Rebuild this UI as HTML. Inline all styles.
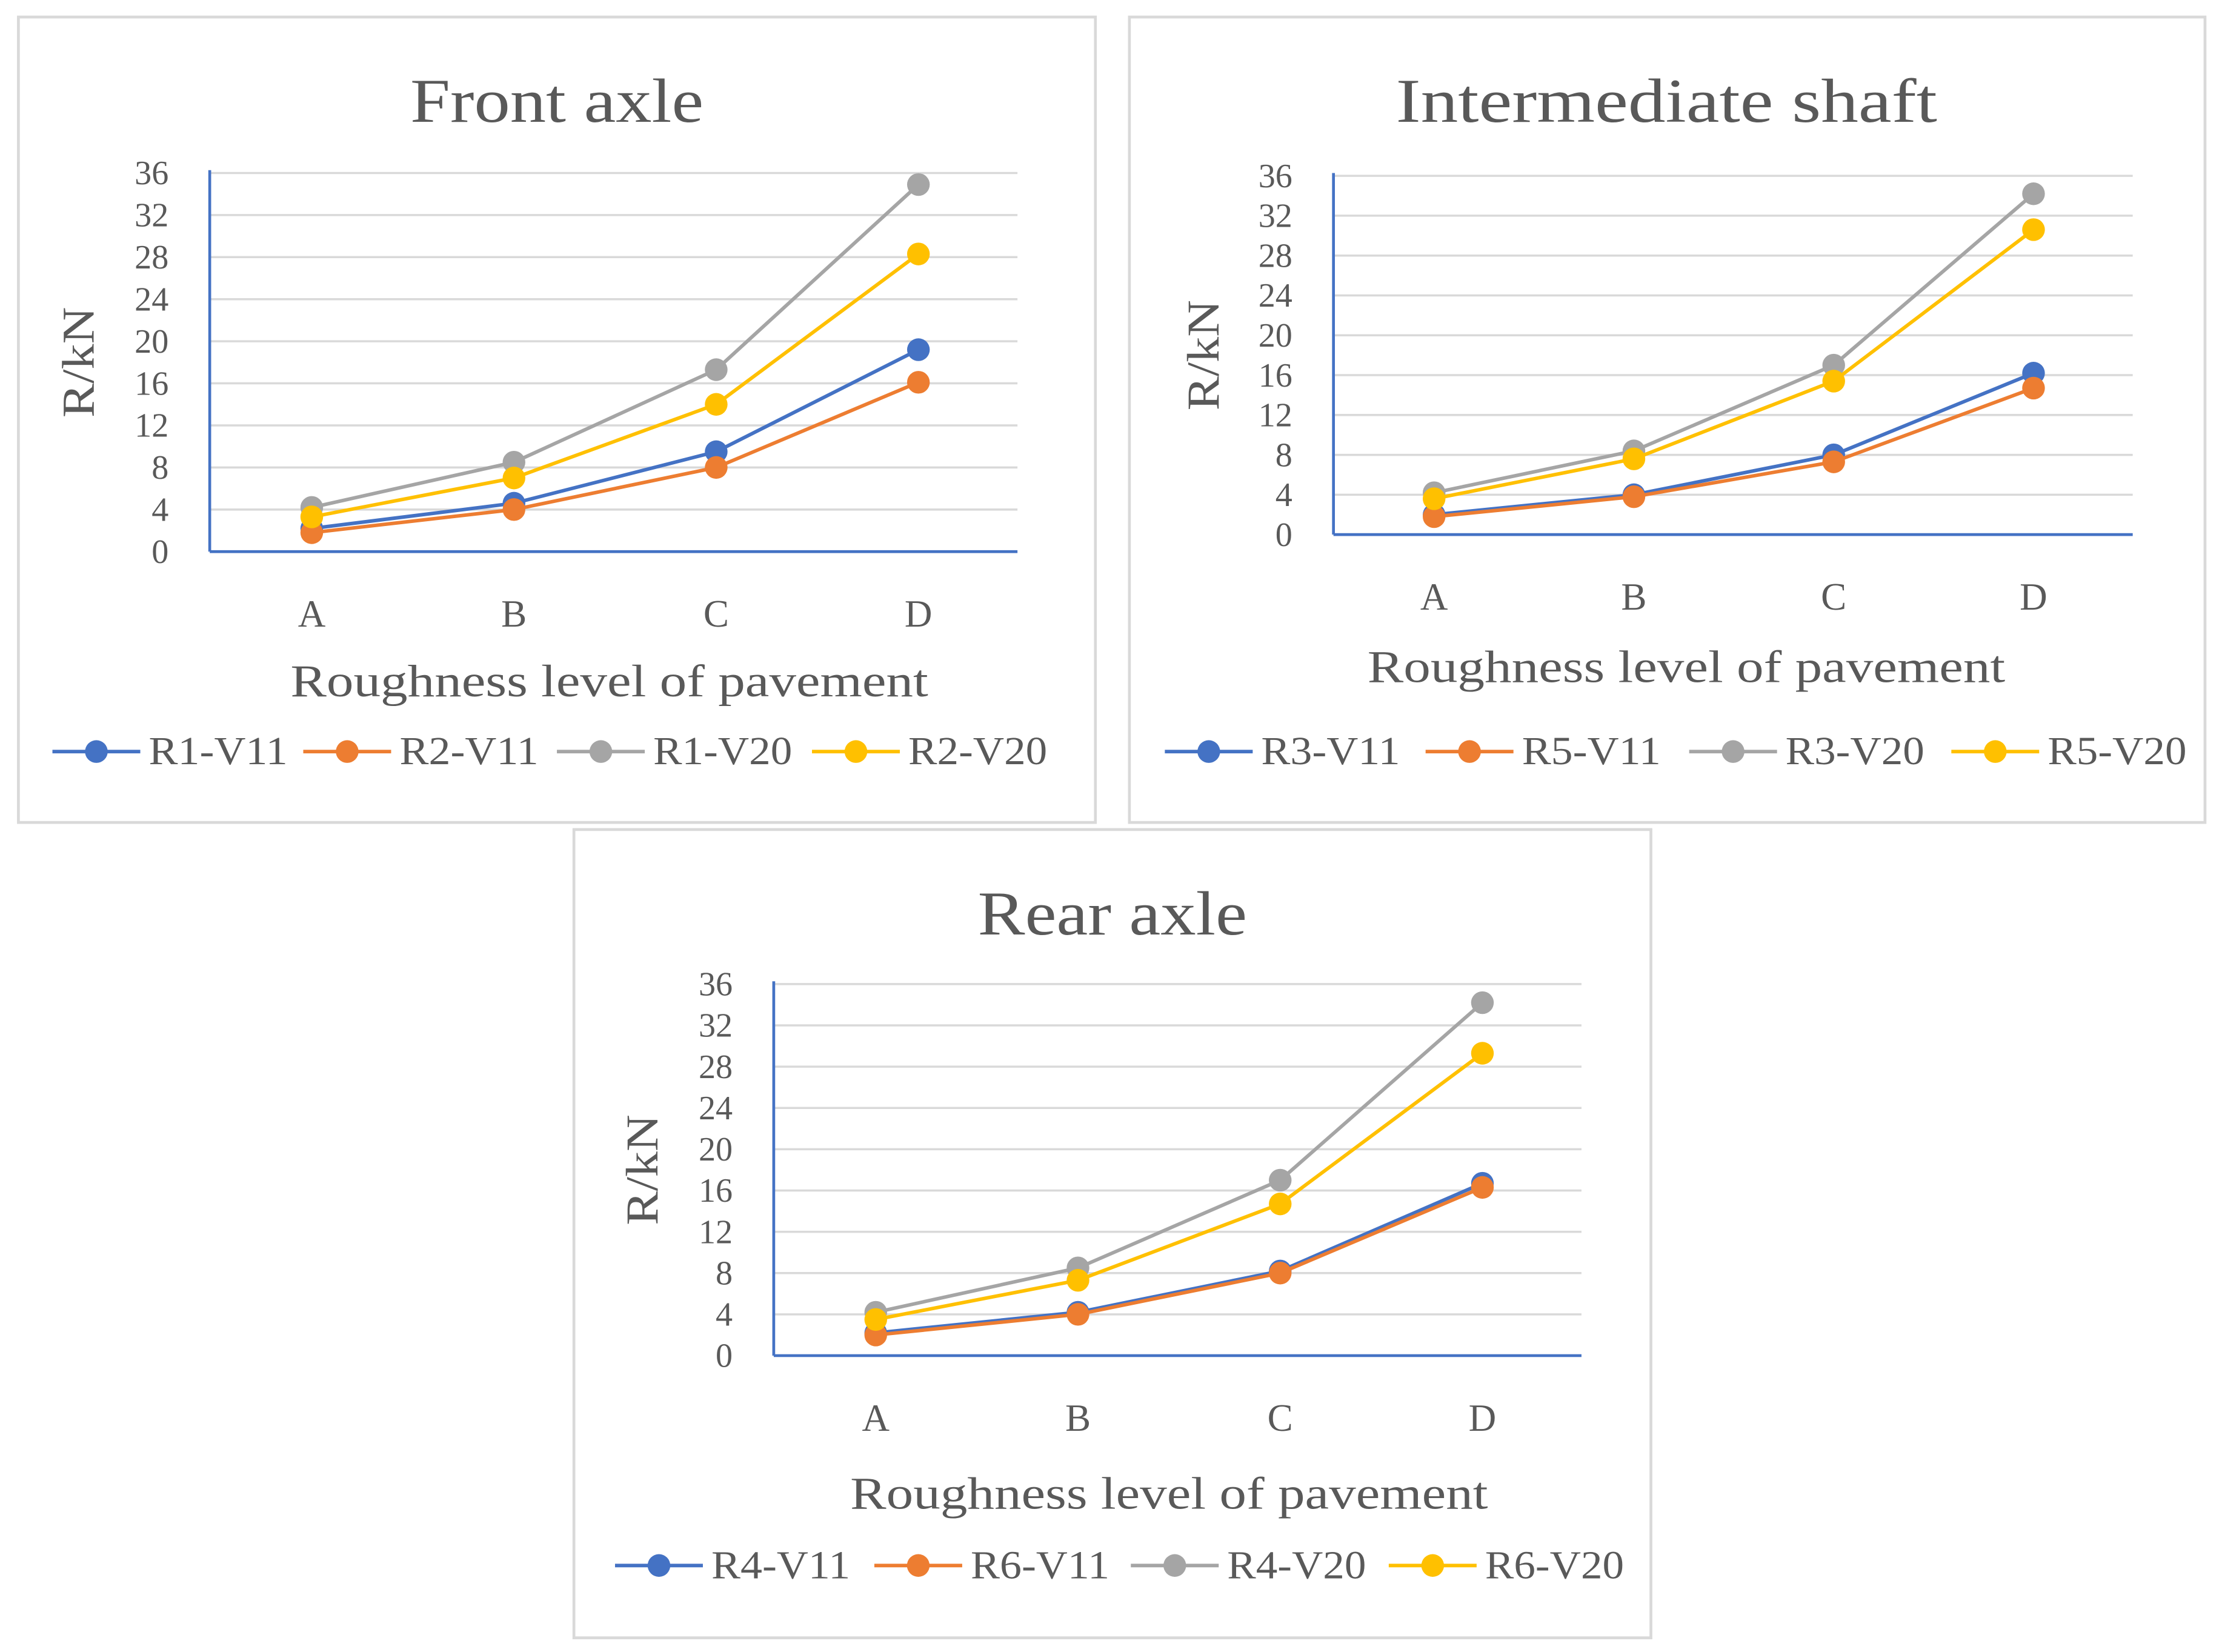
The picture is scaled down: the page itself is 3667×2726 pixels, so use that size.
<!DOCTYPE html>
<html><head><meta charset="utf-8">
<style>
html,body{margin:0;padding:0;background:#fff;}
svg{display:block;}
text{font-family:"Liberation Serif",serif;fill:#595959;}
</style></head>
<body>
<svg id="chart" width="3667" height="2726" viewBox="0 0 1568 1165" preserveAspectRatio="none" xmlns="http://www.w3.org/2000/svg">
<rect x="0" y="0" width="1568" height="1165" fill="#fff"/>
</svg>
<script>
// ---- data ----
const categories = ["A","B","C","D"];
const yTicks = [0,4,8,12,16,20,24,28,32,36];
const seriesColors = ["#4472C4","#ED7D31","#A5A5A5","#FFC000"];

const frontNames = ["R1-V11","R2-V11","R1-V20","R2-V20"];
const frontR1V11 = [2.2, 4.6, 9.5, 19.2];
const frontR2V11 = [1.8, 4.0, 8.0, 16.1];
const frontR1V20 = [4.2, 8.5, 17.3, 34.9];
const frontR2V20 = [3.3, 7.0, 14.0, 28.3];

const interNames = ["R3-V11","R5-V11","R3-V20","R5-V20"];
const interR3V11 = [2.0, 4.0, 8.0, 16.2];
const interR5V11 = [1.8, 3.8, 7.3, 14.7];
const interR3V20 = [4.2, 8.4, 17.0, 34.2];
const interR5V20 = [3.6, 7.6, 15.4, 30.6];

const rearNames = ["R4-V11","R6-V11","R4-V20","R6-V20"];
const rearR4V11 = [2.2, 4.2, 8.2, 16.7];
const rearR6V11 = [2.0, 4.0, 8.0, 16.3];
const rearR4V20 = [4.2, 8.5, 17.0, 34.2];
const rearR6V20 = [3.5, 7.3, 14.7, 29.3];

const NS = "http://www.w3.org/2000/svg";
const svg = document.getElementById("chart");
function mk(tag, attrs, parent, txt){
  const e = document.createElementNS(NS, tag);
  for (const k in attrs) e.setAttribute(k, attrs[k]);
  if (txt !== undefined) e.textContent = txt;
  (parent||svg).appendChild(e);
  return e;
}

function panel(p){
  const g = mk("g", {});
  
  
  const box = mk("rect", {x:p.bx, y:p.by, width:p.bw, height:p.bh, fill:"#fff", stroke:"#D9D9D9", "stroke-width":2}, g);
  
  
  const t = mk("text", {x:p.tx, y:p.ty, "text-anchor":"middle", "font-size":44, textLength:p.tw, lengthAdjust:"spacingAndGlyphs"}, g, p.title);
  
  
  const yMax = yTicks[yTicks.length-1];
  const ys = v => p.y0 - (v / yMax) * (p.y0 - p.y1);
  const xs = i => p.cx0 + i * p.cdx;
  yTicks.forEach(v => {
    if (v > 0) {
      const gl = mk("line", {x1:p.ax, x2:p.ax2, y1:ys(v), y2:ys(v), stroke:"#D9D9D9", "stroke-width":1.5}, g);
      
      
    }
    const tl = mk("text", {x:p.ax - 29, y:ys(v) + 8, "text-anchor":"end", "font-size":24}, g, String(v));
    
    
  });
  const yax = mk("line", {x1:p.ax, x2:p.ax, y1:p.y1 - 2, y2:p.y0, stroke:"#4472C4", "stroke-width":2}, g);
  
  
  const xax = mk("line", {x1:p.ax, x2:p.ax2, y1:p.y0, y2:p.y0, stroke:"#4472C4", "stroke-width":2}, g);
  
  
  categories.forEach((c,i) => {
    const xl = mk("text", {x:xs(i), y:p.xly, "text-anchor":"middle", "font-size":27}, g, c);
    
    
  });
  const xt = mk("text", {x:p.xtx, y:p.xty, "text-anchor":"middle", "font-size":32, textLength:450, lengthAdjust:"spacingAndGlyphs"}, g, "Roughness level  of pavement");
  
  
  const yc = (p.y0 + p.y1) / 2;
  const yt = mk("text", {x:p.ytx, y:yc, "text-anchor":"middle", "font-size":32, textLength:78, lengthAdjust:"spacingAndGlyphs", transform:"rotate(-90 " + p.ytx + " " + yc + ")"}, g, "R/kN");
  
  
  p.series.forEach((vals, s) => {
    const pts = vals.map((v,i) => xs(i) + "," + ys(v)).join(" ");
    const line = mk("polyline", {points:pts, fill:"none", stroke:seriesColors[s], "stroke-width":2.5}, g);
    
    
    vals.forEach((v,i) => {
      const pt = mk("circle", {cx:xs(i), cy:ys(v), r:8, fill:seriesColors[s]}, g);
      
      
    });
  });
  p.names.forEach((n, s) => {
    const lx = p.legX[s];
    const lg = mk("g", {}, g);
    
    
    mk("line", {x1:lx, x2:lx + 62, y1:p.legY, y2:p.legY, stroke:seriesColors[s], "stroke-width":2.5}, lg);
    mk("circle", {cx:lx + 31, cy:p.legY, r:8, fill:seriesColors[s]}, lg);
    mk("text", {x:lx + 68, y:p.legY + 9, "font-size":28, textLength:98, lengthAdjust:"spacingAndGlyphs"}, lg, n);
  });
}

panel({id:"front-axle", title:"Front axle", tw:207, bx:13, by:12, bw:760, bh:568, tx:393, ty:86,
  ax:148, ax2:718, y0:389, y1:122, cx0:220, cdx:142.7, xly:442, xtx:430, xty:491, ytx:66,
  names:frontNames, series:[frontR1V11, frontR2V11, frontR1V20, frontR2V20],
  legX:[37, 214, 393, 573], legY:530});
panel({id:"intermediate-shaft", title:"Intermediate shaft", tw:382, bx:797, by:12, bw:759, bh:568, tx:1176, ty:86,
  ax:941, ax2:1505, y0:377, y1:124, cx0:1012, cdx:141, xly:430, xtx:1190, xty:481, ytx:860,
  names:interNames, series:[interR3V11, interR5V11, interR3V20, interR5V20],
  legX:[822, 1006, 1192, 1377], legY:530});
panel({id:"rear-axle", title:"Rear axle", tw:190, bx:405, by:585, bw:760, bh:570, tx:785, ty:659,
  ax:546, ax2:1116, y0:956, y1:694, cx0:618, cdx:142.7, xly:1009, xtx:825, xty:1064, ytx:464,
  names:rearNames, series:[rearR4V11, rearR6V11, rearR4V20, rearR6V20],
  legX:[434, 617, 798, 980], legY:1104});
</script>
</body></html>
